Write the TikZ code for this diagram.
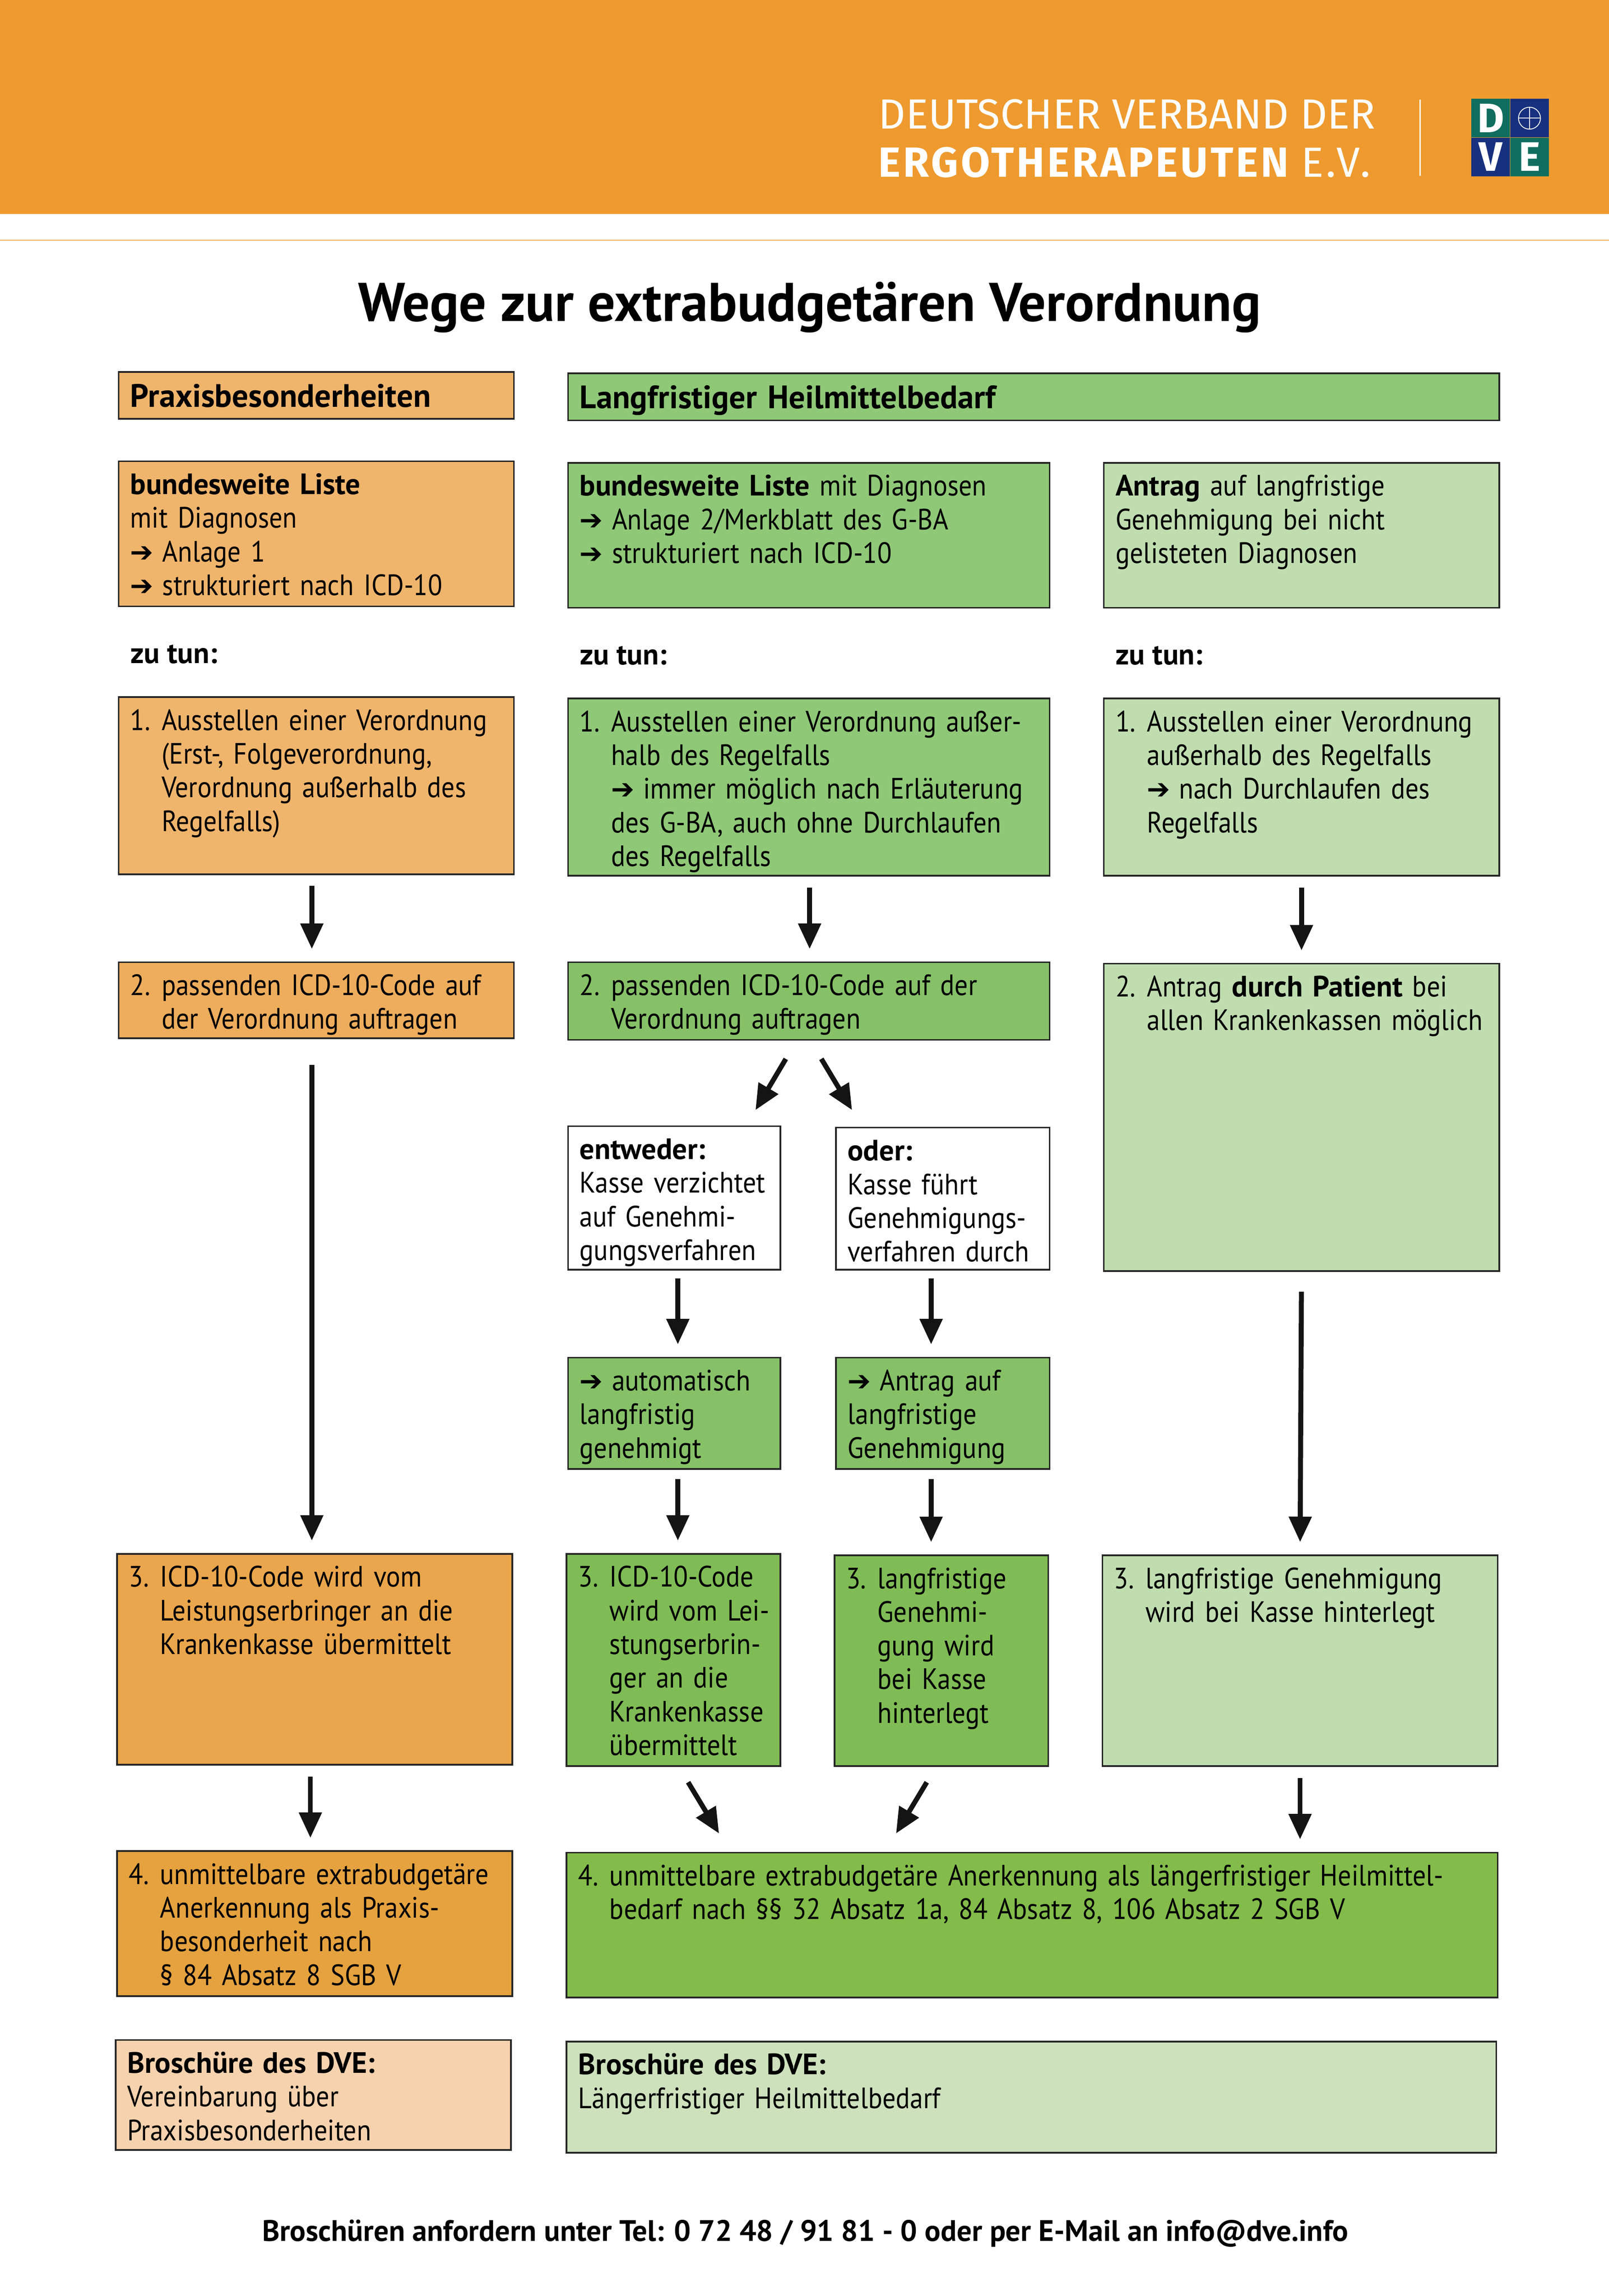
\documentclass[tikz,border=0pt]{standalone}
\usepackage{fontspec}
\usepackage{array}
\setmainfont[FakeStretch=0.9,BoldFont={PT Sans Bold},BoldFeatures={FakeStretch=1.0}]{PT Sans}
\newfontfamily\arrowfont{DejaVu Sans}
\newfontfamily\headfont{Fira Sans}
\usetikzlibrary{positioning,arrows.meta}

\definecolor{bandorange}{HTML}{EE9A2E}
\definecolor{orangeA}{HTML}{F0B56C}
\definecolor{orangeB}{HTML}{EEAD5C}
\definecolor{orangeC}{HTML}{EAA64C}
\definecolor{orangeD}{HTML}{E5A23E}
\definecolor{orangeE}{HTML}{F6D2AE}
\definecolor{greenA}{HTML}{8FC877}
\definecolor{greenB}{HTML}{86C168}
\definecolor{greenC}{HTML}{80BC55}
\definecolor{greenD}{HTML}{83BC4A}
\definecolor{paleA}{HTML}{C0DDB0}
\definecolor{paleB}{HTML}{CCE1BC}
\definecolor{logoteal}{HTML}{0F6E5F}
\definecolor{logonavy}{HTML}{17317F}

\newcommand{\arr}{\makebox[1.1cm][l]{\arrowfont\fontsize{27}{32.7}\selectfont ➔}}
\newcommand{\numitem}[2]{\makebox[1.07cm][l]{#1}\begin{tabular}[t]{@{}l@{}}#2\end{tabular}}

\tikzset{
  txtfont/.style={font=\fontsize{28.6}{32.7}\selectfont},
  box/.style={draw=black!85, line width=1.6pt, anchor=north west, outer sep=0pt, txtfont,
    inner xsep=0.4cm, inner ysep=0pt, align=left, text height=1.13cm},
  size/.style 2 args={text width={(#1-16)*0.05cm}, text depth={(#2-22.6)*0.05cm}},
  headbox/.style={font=\fontsize{31.5}{32.7}\selectfont, text height=1.2cm},
  arrow/.style={-{Triangle[length=0.87cm,width=0.75cm]}, line width=4.8pt, shorten <=0.4cm, shorten >=0.45cm, black!92},
  note/.style={anchor=base west, inner sep=0pt, txtfont},
  logobox/.style={anchor=north west, minimum size=1.32cm, inner sep=0pt, outer sep=0pt, text=white,
    font=\fontsize{40}{40}\selectfont\bfseries\headfont},
}

\begin{document}
\begin{tikzpicture}[x=0.05cm,y=-0.05cm]
\useasboundingbox (0,0) rectangle (1099,1567.8);

\fill[bandorange] (0,0) rectangle (1099,146);
\draw[bandorange!80, line width=1pt] (0,164) -- (1099,164);

% header
\node[anchor=base west, inner sep=0pt, text=white, font=\fontsize{41}{41}\selectfont\headfont] (verband) at (600,88) {DEUTSCHER VERBAND DER};
\node[anchor=base west, inner sep=0pt, text=white, font=\fontsize{41}{41}\selectfont\headfont\addfontfeature{LetterSpace=6}\bfseries] (ergo) at (600,121) {ERGOTHERAPEUTEN \mdseries E.V.};
\draw[white, line width=1pt] (970,68) -- (970,120);

% logo
\node[logobox, fill=logoteal] (logod) at (1005,67.5) {D};
\node[logobox, fill=logonavy] (logoe) at (1031.5,67.5) {};
\node[logobox, fill=logonavy] (logov) at (1005,94) {V};
\node[logobox, fill=logoteal] (logoh) at (1031.5,94) {E};
\draw[white, line width=0.8pt] (logoe.center) circle (7.5);
\draw[white, line width=0.8pt] (logoe.west) ++(5.7,0) -- ++(15,0);
\draw[white, line width=0.8pt] (logoe.north) ++(0,5.7) -- ++(0,15);

\node[inner sep=0pt, font=\fontsize{53}{53}\selectfont\bfseries] (title) at (553,210) {Wege zur extrabudgetären Verordnung};

% left column
\node[box, size={270}{30.6}, fill=orangeA, headbox] (praxis) at (81,254) {\textbf{Praxisbesonderheiten}};
\node[box, size={270}{99}, fill=orangeA] (l1) at (81,315) {\textbf{bundesweite Liste}\\mit Diagnosen\\\arr{}Anlage 1\\\arr{}strukturiert nach ICD-10};
\node[note] (ltun) at (89,453) {\textbf{zu tun:}};
\node[box, size={270}{121}, fill=orangeA] (l2) at (81,476) {\numitem{1.}{Ausstellen einer Verordnung\\(Erst-, Folgeverordnung,\\Verordnung außerhalb des\\Regelfalls)}};
\node[box, size={270}{52}, fill=orangeB] (l3) at (81,657) {\numitem{2.}{passenden ICD-10-Code auf\\der Verordnung auftragen}};
\node[box, size={270}{144}, fill=orangeC] (l4) at (80,1061) {\numitem{3.}{ICD-10-Code wird vom\\Leistungserbringer an die\\Krankenkasse übermittelt}};
\node[box, size={270}{99}, fill=orangeD] (l5) at (80,1264) {\numitem{4.}{unmittelbare extrabudgetäre\\Anerkennung als Praxis-\\besonderheit nach\\§ 84 Absatz 8 SGB V}};
\node[box, size={270}{75}, fill=orangeE] (l6) at (79,1393) {\textbf{Broschüre des DVE:}\\Vereinbarung über\\Praxisbesonderheiten};

% middle column
\node[box, size={636}{30.6}, fill=greenA, headbox] (bedarf) at (388,255) {\textbf{Langfristiger Heilmittelbedarf}};
\node[box, size={329}{99}, fill=greenA] (m1) at (388,316) {\textbf{bundesweite Liste} mit Diagnosen\\\arr{}Anlage 2/Merkblatt des G-BA\\\arr{}strukturiert nach ICD-10};
\node[note] (mtun) at (396,454) {\textbf{zu tun:}};
\node[box, size={329}{121}, fill=greenA] (m2) at (388,477) {\numitem{1.}{Ausstellen einer Verordnung außer-\\halb des Regelfalls\\\arr{}immer möglich nach Erläuterung\\des G-BA, auch ohne Durchlaufen\\des Regelfalls}};
\node[box, size={329}{53}, fill=greenB] (m3) at (388,657) {\numitem{2.}{passenden ICD-10-Code auf der\\Verordnung auftragen}};
\node[box, size={145}{98}, fill=white] (weder) at (388,769) {\textbf{entweder:}\\Kasse verzichtet\\auf Genehmi-\\gungsverfahren};
\node[box, size={146}{97}, fill=white] (oder) at (571,770) {\textbf{oder:}\\Kasse führt\\Genehmigungs-\\verfahren durch};
\node[box, size={145}{76}, fill=greenB] (auto) at (388,927) {\arr{}automatisch\\langfristig\\genehmigt};
\node[box, size={146}{76}, fill=greenB] (antrag) at (571,927) {\arr{}Antrag auf\\langfristige\\Genehmigung};
\node[box, size={146}{145}, fill=greenC] (m4) at (387,1061) {\numitem{3.}{ICD-10-Code\\wird vom Lei-\\stungserbrin-\\ger an die\\Krankenkasse\\übermittelt}};
\node[box, size={146}{144}, fill=greenC] (m5) at (570,1062) {\numitem{3.}{langfristige\\Genehmi-\\gung wird\\bei Kasse\\hinterlegt}};
\node[box, size={636}{99}, fill=greenD] (m6) at (387,1265) {\numitem{4.}{unmittelbare extrabudgetäre Anerkennung als längerfristiger Heilmittel-\\bedarf nach §§ 32 Absatz 1a, 84 Absatz 8, 106 Absatz 2 SGB V}};
\node[box, size={635}{76}, fill=paleB] (m7) at (387,1394) {\textbf{Broschüre des DVE:}\\Längerfristiger Heilmittelbedarf};

% right column
\node[box, size={270}{99}, fill=paleA] (r1) at (754,316) {\textbf{Antrag} auf langfristige\\Genehmigung bei nicht\\gelisteten Diagnosen};
\node[note] (rtun) at (762,454) {\textbf{zu tun:}};
\node[box, size={270}{121}, fill=paleA] (r2) at (754,477) {\numitem{1.}{Ausstellen einer Verordnung\\außerhalb des Regelfalls\\\arr{}nach Durchlaufen des\\Regelfalls}};
\node[box, size={270}{210}, fill=paleA] (r3) at (754,658) {\numitem{2.}{Antrag \textbf{durch Patient} bei\\allen Krankenkassen möglich}};
\node[box, size={270}{144}, fill=paleA] (r4) at (753,1062) {\numitem{3.}{langfristige Genehmigung\\wird bei Kasse hinterlegt}};

\node[inner sep=0pt, font=\fontsize{28.8}{32.7}\selectfont\bfseries] (foot) at (550,1525) {Broschüren anfordern unter Tel: 0 72 48 / 91 81 - 0 oder per E-Mail an info@dve.info};

% arrows
\draw[arrow] ([shift={(-3,0)}]l2.south) -- ([shift={(-3,0)}]l3.north);
\draw[arrow] ([shift={(0.5,0)}]m2.south) -- ([shift={(0.5,0)}]m3.north);
\draw[arrow] (r2.south) -- (r3.north);
\draw[arrow, shorten <=0.9cm] ([shift={(-3,0)}]l3.south) -- ([shift={(-2,0)}]l4.north);
\draw[arrow, shorten <=0.76cm, shorten >=0.64cm] ([shift={(-8,0)}]m3.south) -- ([shift={(49,0)}]weder.north);
\draw[arrow, shorten <=0.76cm, shorten >=0.7cm] ([shift={(0.7,0)}]m3.south) -- ([shift={(-54.8,0)}]oder.north);
\draw[arrow, shorten <=0.7cm] (r3.south) -- (r4.north);
\draw[arrow, shorten <=0.3cm] ([shift={(2.5,0)}]weder.south) -- ([shift={(2.5,0)}]auto.north);
\draw[arrow, shorten <=0.3cm] ([shift={(-8,0)}]oder.south) -- ([shift={(-8,0)}]antrag.north);
\draw[arrow, shorten <=0.35cm] ([shift={(2.5,0)}]auto.south) -- ([shift={(3,0)}]m4.north);
\draw[arrow, shorten <=0.35cm] ([shift={(-8,0)}]antrag.south) -- ([shift={(-7,0)}]m5.north);
\draw[arrow] ([shift={(-3,0)}]l4.south) -- ([shift={(-3,0)}]l5.north);
\draw[arrow, shorten <=0.64cm, shorten >=0.76cm] ([shift={(3.4,0)}]m4.south) -- ([shift={(-206,0)}]m6.north);
\draw[arrow, shorten <=0.64cm, shorten >=0.76cm] ([shift={(-3.4,0)}]m5.south) -- ([shift={(-100.8,0)}]m6.north);
\draw[arrow] (r4.south) -- ([shift={(183,0)}]m6.north);
\end{tikzpicture}
\end{document}
